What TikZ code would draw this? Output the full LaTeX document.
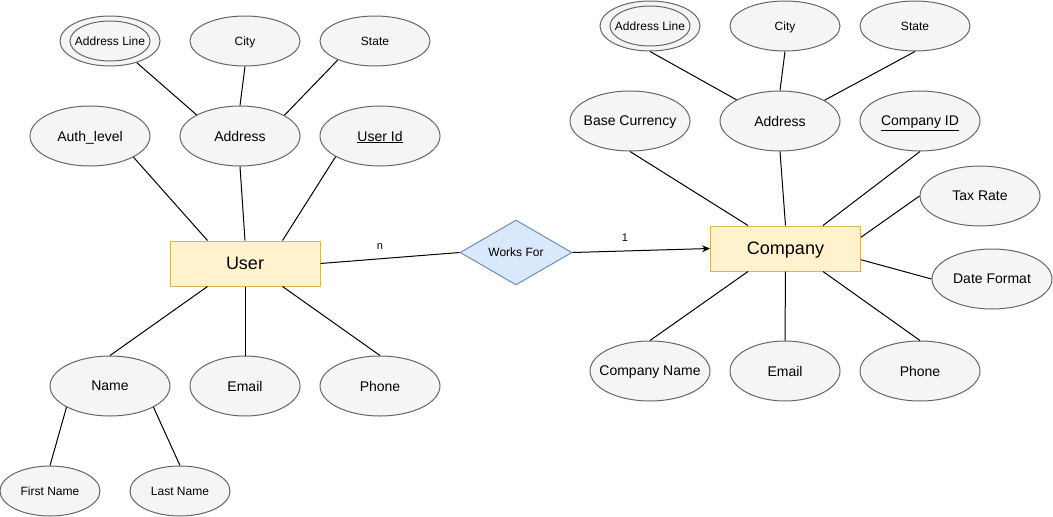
\documentclass[tikz,border=0pt]{standalone}
\usepackage{fontspec}
\setmainfont{Liberation Sans}
\usetikzlibrary{arrows.meta,shapes.geometric}
\definecolor{attrfill}{HTML}{F5F5F5}
\definecolor{attrdraw}{HTML}{666666}
\definecolor{entfill}{HTML}{FFF2CC}
\definecolor{entdraw}{HTML}{D6B656}
\definecolor{relfill}{HTML}{DAE8FC}
\definecolor{reldraw}{HTML}{6C8EBF}
\tikzset{%
   attr/.style={ellipse, draw=attrdraw, fill=attrfill, inner xsep=-30pt, inner ysep=0pt,
     text depth=0pt,
     minimum width=120pt, minimum height=60pt, font=\fontsize{14}{16}\selectfont},
   sattr/.style={attr, minimum width=110pt, minimum height=50pt, font=\fontsize{12}{14}\selectfont},
   multi/.style={sattr, minimum width=100pt},
   ent/.style={rectangle, draw=entdraw, fill=entfill, inner sep=0pt,
     text depth=0pt,
     minimum width=150pt, minimum height=45pt, font=\fontsize{18}{20}\selectfont},
   rel/.style={diamond, draw=reldraw, fill=relfill, inner sep=0pt,
     text depth=0pt,
     minimum width=112pt, minimum height=65pt, font=\fontsize{12}{14}\selectfont},
   lbl/.style={inner sep=0pt, text depth=0pt, font=\fontsize{11}{13}\selectfont},
}

\begin{document}
\begin{tikzpicture}[x=1pt, y=-1pt, line width=1pt]
   \useasboundingbox (0,0) rectangle (1053,517);
   \node[multi] (uaddrline) at (110,41) {Address Line};
   \draw[attrdraw] (uaddrline.center) ellipse [x radius=40pt, y radius=20pt];
   \node[sattr] (ucity) at (245,41) {City};
   \node[sattr] (ustate) at (375,41) {State};
   \node[attr] (uauth) at (90,136) {Auth\_level};
   \node[attr] (uaddr) at (240,136) {Address};
   \node[attr] (uid) at (380,136) {\underline{User Id}};
   \node[ent] (user) at (245,263.5) {User};
   \node[attr] (uname) at (110,386) {Name};
   \node[attr, minimum width=110pt] (uemail) at (245,386) {Email};
   \node[attr] (uphone) at (380,386) {Phone};
   \node[sattr, minimum width=100pt] (ufirst) at (50,491) {First Name};
   \node[sattr, minimum width=100pt] (ulast) at (180,491) {Last Name};
   \path (uaddrline.-39) edge (uaddr.154)
         (ucity.south) edge (uaddr.north)
         (ustate.207) edge (uaddr.25)
         (uauth.-26) edge ([xshift=-37.5pt]user.north)
         (uaddr.south) edge (user.north)
         (uid.205) edge ([xshift=37.5pt]user.north)
         ([xshift=-37.5pt]user.south) edge (uname.north)
         (user.south) edge (uemail.north)
         ([xshift=37.5pt]user.south) edge (uphone.north)
         (uname.-154) edge (ufirst.north)
         (uname.-26) edge (ulast.north);
   \node[rel] (works) at (516,252.5) {Works For};
   \node[lbl] (n) at (380,247) {n};
   \node[lbl] (one) at (625,238) {1};
   \node[ent] (company) at (785.5,248.5) {Company};
   \path (user.east) edge (works.west);
   \draw[-{Stealth[length=8pt,width=7pt]}] (works.east) -- (company.west);
   \node[multi] (caddrline) at (650,26) {Address Line};
   \draw[attrdraw] (caddrline.center) ellipse [x radius=40pt, y radius=20pt];
   \node[sattr] (ccity) at (785,26) {City};
   \node[sattr] (cstate) at (915,26) {State};
   \node[attr] (ccur) at (630,121) {Base Currency};
   \node[attr] (caddr) at (780,121) {Address};
   \node[attr] (cid) at (920,121) {\underline{Company ID}};
   \node[attr] (ctax) at (980,196) {Tax Rate};
   \node[attr] (cdate) at (992,279) {Date Format};
   \node[attr] (cname) at (650,371) {Company Name};
   \node[attr, minimum width=110pt] (cemail) at (785,371) {Email};
   \node[attr] (cphone) at (920,371) {Phone};
   \path (caddrline.south) edge (caddr.154)
         (ccity.south) edge (caddr.north)
         (cstate.south) edge (caddr.25)
         (ccur.south) edge ([xshift=-37.5pt]company.north)
         (caddr.south) edge (company.north)
         (cid.south) edge ([xshift=37.5pt]company.north)
         (ctax.west) edge ([yshift=11.25pt]company.east)
         ([yshift=-11.25pt]company.east) edge (cdate.west)
         ([xshift=-37.5pt]company.south) edge (cname.north)
         (company.south) edge (cemail.north)
         ([xshift=37.5pt]company.south) edge (cphone.north);
\end{tikzpicture}
\end{document}
